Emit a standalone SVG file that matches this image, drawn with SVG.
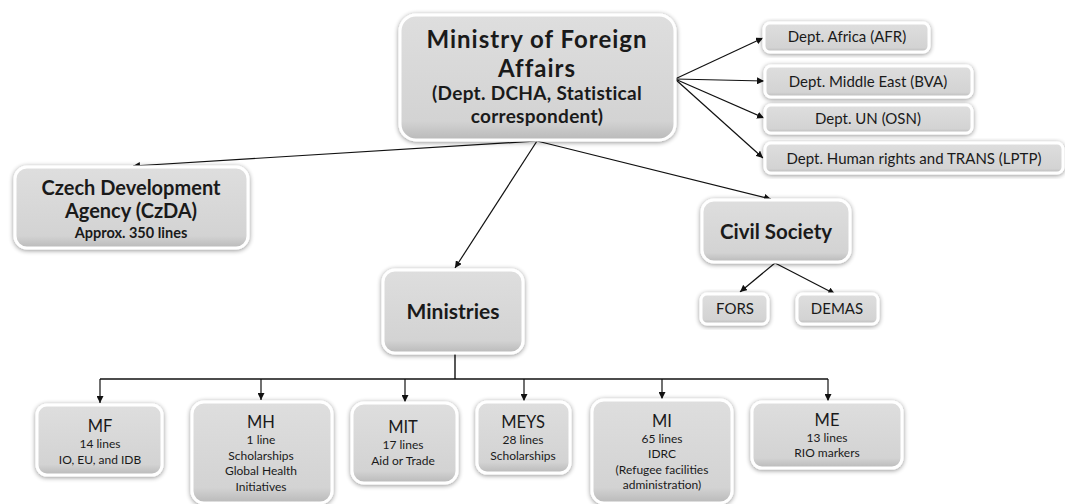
<svg xmlns="http://www.w3.org/2000/svg" width="1065" height="504" viewBox="0 0 1065 504">
<style>
.box{fill:url(#g);stroke:#ffffff;stroke-width:3;filter:url(#sh)}
text{font-family:Lato,"Liberation Sans",sans-serif;fill:#1a1a1a;text-anchor:middle}
.b{font-weight:bold}
.t{font-size:16.5px}
.s{font-size:12px}
.d{font-size:15px}
.c{stroke:#111;stroke-width:1.2;fill:none;marker-end:url(#ah)}
.l{stroke:#111;stroke-width:1.4;fill:none}
</style>
<defs>
<linearGradient id="g" x1="0" y1="0" x2="0" y2="1">
<stop offset="0" stop-color="#dedede"/>
<stop offset="0.85" stop-color="#d3d3d3"/>
<stop offset="1" stop-color="#b9b9b9"/>
</linearGradient>
<filter id="sh" x="-20%" y="-20%" width="140%" height="140%">
<feGaussianBlur in="SourceAlpha" stdDeviation="2.5"/>
<feOffset dx="0" dy="1" result="o"/>
<feComponentTransfer><feFuncA type="linear" slope="0.45"/></feComponentTransfer>
<feMerge><feMergeNode/><feMergeNode in="SourceGraphic"/></feMerge>
</filter>
<marker id="ah" viewBox="0 0 10 10" refX="10" refY="5" markerWidth="7" markerHeight="7" orient="auto" markerUnits="userSpaceOnUse">
<path d="M0,0 L10,5 L0,10 z" fill="#111"/>
</marker>
</defs>
<rect width="1065" height="504" fill="#ffffff"/>

<g id="connectors">
<line class="c" x1="675" y1="79" x2="763" y2="38"/>
<line class="c" x1="675" y1="79" x2="764" y2="81"/>
<line class="c" x1="675" y1="79" x2="764" y2="118"/>
<line class="c" x1="675" y1="79" x2="763" y2="158"/>
<line class="c" x1="537" y1="141" x2="133" y2="166"/>
<line class="c" x1="537" y1="141" x2="455" y2="268"/>
<line class="c" x1="537" y1="141" x2="771" y2="199"/>
<line class="c" x1="775" y1="263" x2="740" y2="292"/>
<line class="c" x1="775" y1="263" x2="835" y2="294"/>
<polyline class="l" points="455,354 455,379"/>
<line class="l" x1="100" y1="379" x2="828" y2="379"/>
<line class="c" x1="100" y1="379" x2="100" y2="403"/>
<line class="c" x1="261" y1="379" x2="261" y2="400"/>
<line class="c" x1="405" y1="379" x2="405" y2="402"/>
<line class="c" x1="524" y1="379" x2="524" y2="401"/>
<line class="c" x1="662" y1="379" x2="662" y2="399"/>
<line class="c" x1="828" y1="379" x2="828" y2="401"/>
</g>

<g id="mfa">
<rect class="box" x="400" y="15" width="275" height="125" rx="16"/>
<text class="b" x="537" y="48" font-size="24" letter-spacing="1">Ministry of Foreign</text>
<text class="b" x="537" y="77" font-size="24" letter-spacing="1">Affairs</text>
<text class="b" x="537" y="100" font-size="19" letter-spacing="0.3">(Dept. DCHA, Statistical</text>
<text class="b" x="537" y="123" font-size="19" letter-spacing="0.3">correspondent)</text>
</g>

<g id="afr">
<rect class="box" x="764" y="23" width="165" height="29" rx="6"/>
<text class="d" x="847" y="42">Dept. Africa (AFR)</text>
</g>
<g id="bva">
<rect class="box" x="765" y="66" width="207" height="31" rx="6"/>
<text class="d" x="868" y="87">Dept. Middle East (BVA)</text>
</g>
<g id="osn">
<rect class="box" x="765" y="105" width="207" height="28" rx="6"/>
<text class="d" x="868" y="124">Dept. UN (OSN)</text>
</g>
<g id="lptp">
<rect class="box" x="765" y="143" width="298" height="30" rx="6"/>
<text class="d" x="914" y="164">Dept. Human rights and TRANS (LPTP)</text>
</g>

<g id="czda">
<rect class="box" x="15" y="167" width="233" height="81" rx="12"/>
<text class="b" x="131" y="195" font-size="20">Czech Development</text>
<text class="b" x="131" y="218" font-size="20">Agency (CzDA)</text>
<text class="b" x="131" y="238" font-size="14.5">Approx. 350 lines</text>
</g>

<g id="ministries">
<rect class="box" x="383" y="270" width="140" height="83" rx="12"/>
<text class="b" x="453" y="319" font-size="21">Ministries</text>
</g>

<g id="civil">
<rect class="box" x="702" y="200" width="148" height="62" rx="12"/>
<text class="b" x="776" y="239" font-size="20.5">Civil Society</text>
</g>
<g id="fors">
<rect class="box" x="701" y="294" width="67" height="30" rx="6"/>
<text class="d" x="735" y="314">FORS</text>
</g>
<g id="demas">
<rect class="box" x="797" y="294" width="81" height="30" rx="6"/>
<text class="d" x="837" y="314">DEMAS</text>
</g>

<g id="mf">
<rect class="box" x="37" y="405" width="125" height="70" rx="10"/>
<text class="t" x="100" y="432">MF</text>
<text class="s" x="100" y="448">14 lines</text>
<text class="s" x="100" y="464">IO, EU, and IDB</text>
</g>
<g id="mh">
<rect class="box" x="192" y="402" width="140" height="101" rx="12"/>
<text class="t" x="261" y="428">MH</text>
<text class="s" x="261" y="444">1 line</text>
<text class="s" x="261" y="460">Scholarships</text>
<text class="s" x="261" y="475">Global Health</text>
<text class="s" x="261" y="491">Initiatives</text>
</g>
<g id="mit">
<rect class="box" x="352" y="403" width="105" height="80" rx="12"/>
<text class="t" x="403" y="433">MIT</text>
<text class="s" x="403" y="449">17 lines</text>
<text class="s" x="403" y="465">Aid or Trade</text>
</g>
<g id="meys">
<rect class="box" x="477" y="402" width="93" height="71" rx="10"/>
<text class="t" x="523" y="428">MEYS</text>
<text class="s" x="523" y="444">28 lines</text>
<text class="s" x="523" y="460">Scholarships</text>
</g>
<g id="mi">
<rect class="box" x="592" y="400" width="140" height="103" rx="12"/>
<text class="t" x="662" y="427">MI</text>
<text class="s" x="662" y="443">65 lines</text>
<text class="s" x="662" y="458">IDRC</text>
<text class="s" x="662" y="474">(Refugee facilities</text>
<text class="s" x="662" y="489">administration)</text>
</g>
<g id="me">
<rect class="box" x="752" y="402" width="150" height="66" rx="10"/>
<text class="t" x="827" y="426">ME</text>
<text class="s" x="827" y="442">13 lines</text>
<text class="s" x="827" y="457">RIO markers</text>
</g>
</svg>
